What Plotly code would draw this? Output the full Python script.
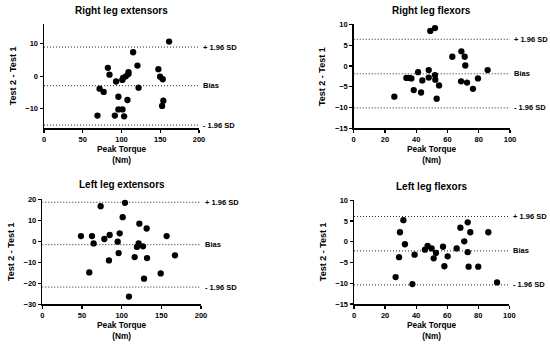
import plotly.graph_objects as go

# ---------------- data ----------------
titles = ["Right leg extensors", "Right leg flexors", "Left leg extensors", "Left leg flexors"]

rle_torque = [161.4, 115, 120.6, 82.4, 84.5, 109, 109, 105.6, 102, 101, 93, 122, 71.7, 77, 96,
              107.7, 96, 101.3, 69, 91.4, 103.4, 147.6, 149.8, 153.2, 154, 152.4]
rle_diff = [10.7, 7.4, 3.3, 2.6, 0.5, 1.3, 0.7, 0.0, -0.5, -1.1, -1.6, -3.5, -3.8, -4.8, -6.3,
            -7.3, -10.2, -10.2, -12.1, -12.1, -12.3, 2.2, -0.1, -0.9, -7.5, -9.1]

rlf_torque = [49, 52, 63.1, 68.9, 71, 71.4, 85.7, 41.2, 48, 52, 33.7, 35.4, 36.9, 48, 52.2,
              43.9, 68.7, 72.5, 79.5, 54.6, 38.4, 43.1, 76.3, 53.1, 26]
rlf_diff = [8.4, 9.1, 2.2, 3.5, 2.2, 0.1, -1.0, -1.5, -1.0, -2.2, -2.9, -2.9, -3.0, -2.8, -3.3,
            -3.5, -3.7, -4.0, -3.0, -4.7, -5.8, -6.4, -5.5, -7.9, -7.4]

lle_torque = [73.5, 104.2, 101.3, 122.3, 131.5, 48.7, 62.6, 84.9, 97.5, 78.2, 64.7, 95, 121.4,
              119.3, 126.9, 156.7, 96.2, 167.2, 84, 116.4, 132, 59.2, 149.2, 128.2, 109.2]
lle_diff = [16.7, 18.3, 11.5, 8.4, 6.1, 2.5, 2.5, 3.0, 3.8, 1.1, -1.0, -0.2, -1.0,
            -2.7, -2.4, 2.5, -5.6, -6.7, -9.1, -7.5, -8.0, -14.8, -15.3, -17.8, -26.3]

llf_torque = [31.8, 29.6, 32.8, 29, 26.8, 39, 37.6, 45.7, 47.4, 50, 52.8, 51.3, 57.3, 58.2,
              60.3, 66.1, 68.5, 73.2, 71, 74.9, 73.2, 73.8, 80, 86.5, 92.1]
llf_diff = [5.2, 2.3, -0.6, -3.7, -8.5, -3.1, -10.2, -1.9, -1.0, -1.6, -2.7, -4.0, -1.2, -5.9,
            -3.5, -1.6, 3.4, 4.7, 0.1, 2.3, -2.5, -6.0, -6.0, 2.3, -9.8]

# limits of agreement: [upper, bias, lower]
rle_loa = [9.0, -2.9, -15.0]
rlf_loa = [6.4, -1.9, -10.1]
lle_loa = [18.6, -1.6, -21.8]
llf_loa = [6.1, -2.2, -10.4]
loa_labels = ["+ 1.96 SD", "Bias", "- 1.96 SD"]

x_ranges = [[0, 200], [0, 100], [0, 200], [0, 100]]
y_ranges = [[-16, 16], [-15, 10], [-30, 20], [-15, 10]]
x_ticks = [[0, 50, 100, 150, 200], [0, 20, 40, 60, 80, 100],
           [0, 50, 100, 150, 200], [0, 20, 40, 60, 80, 100]]
y_ticks = [[-10, 0, 10], [-15, -10, -5, 0, 5, 10],
           [-30, -20, -10, 0, 10, 20], [-15, -10, -5, 0, 5, 10]]

x_title = "Peak Torque<br>(Nm)"
y_title = "Test 2 - Test 1"

panels = [(rle_torque, rle_diff, rle_loa), (rlf_torque, rlf_diff, rlf_loa),
          (lle_torque, lle_diff, lle_loa), (llf_torque, llf_diff, llf_loa)]

# ---------------- layout geometry (pixels) ----------------
W, H = 550, 344
px_boxes = [  # x0, x1, ytop, ybottom
    (44, 199, 24.3, 128.3),
    (353.7, 510, 24.3, 128.3),
    (42.3, 201, 199.3, 304.3),
    (354, 509.3, 200.3, 304.0),
]

FONT = "Liberation Sans, Arial, sans-serif"
fig = go.Figure()

for i, ((xs, ys, loa), (x0, x1, yt, yb)) in enumerate(zip(panels, px_boxes)):
    n = "" if i == 0 else str(i + 1)
    xa, ya = "x" + n, "y" + n
    fig.add_trace(go.Scatter(
        x=xs, y=ys, mode="markers", xaxis=xa, yaxis=ya,
        marker=dict(color="black", size=6.3, line=dict(width=0)),
        showlegend=False, hoverinfo="skip"))
    axis_common = dict(
        showgrid=False, zeroline=False, showline=True, linecolor="black", linewidth=1.5,
        ticks="outside", ticklen=3, tickwidth=1.2, tickcolor="black", automargin=False,
        tickfont=dict(family=FONT, size=7.5, color="#000000", weight="bold"))
    fig.layout["xaxis" + n] = dict(
        domain=[x0 / W, x1 / W], range=x_ranges[i], tickvals=x_ticks[i],
        anchor=ya, **axis_common)
    fig.layout["yaxis" + n] = dict(
        domain=[1 - yb / H, 1 - yt / H], range=y_ranges[i], tickvals=y_ticks[i],
        anchor=xa, **axis_common)
    # limit-of-agreement lines and labels
    for val, lab in zip(loa, loa_labels):
        fig.add_shape(type="line", xref=xa, yref=ya, x0=x_ranges[i][0], x1=x_ranges[i][1],
                      y0=val, y1=val, line=dict(color="#222222", width=1, dash="1px,2px"))
        fig.add_annotation(xref=xa, yref=ya, x=x_ranges[i][1], y=val, text=lab,
                           showarrow=False, xanchor="left", xshift=2,
                           font=dict(family=FONT, size=7.5, color="black", weight="bold"))
    # panel title
    fig.add_annotation(xref="paper", yref="paper", x=((x0 + x1) / 2) / W, y=1 - (yt - 14.3) / H,
                       text=titles[i], showarrow=False, xanchor="center", yanchor="middle",
                       font=dict(family=FONT, size=10, color="black", weight="bold"))
    # x-axis title
    fig.add_annotation(xref="paper", yref="paper", x=((x0 + x1) / 2) / W, y=1 - (yb + 26.5) / H,
                       text=x_title, showarrow=False, xanchor="center", yanchor="middle",
                       font=dict(family=FONT, size=8.3, color="black", weight="bold"))
    # y-axis title
    fig.add_annotation(xref="paper", yref="paper", x=(x0 - 31) / W, y=1 - ((yt + yb) / 2) / H,
                       text=y_title, showarrow=False, textangle=-90,
                       xanchor="center", yanchor="middle",
                       font=dict(family=FONT, size=9, color="black", weight="bold"))

fig.update_layout(template="none", width=W, height=H, hovermode=False, dragmode=False,
                  margin=dict(l=0, r=0, t=0, b=0, pad=0, autoexpand=False),
                  paper_bgcolor="white", plot_bgcolor="white")
fig.write_html("out.html", config={"displayModeBar": False, "staticPlot": True},
               post_script="document.body.style.margin='0';document.body.style.overflow='hidden';")
